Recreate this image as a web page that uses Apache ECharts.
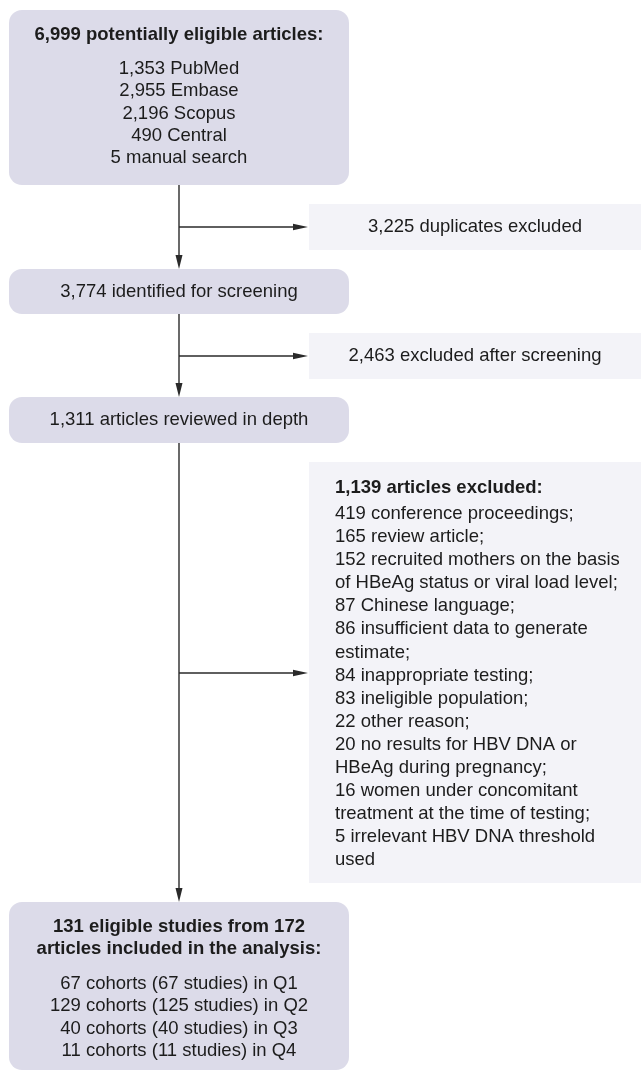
<!DOCTYPE html>
<html>
<head>
<meta charset="utf-8">
<script src="https://cdn.jsdelivr.net/npm/echarts@6/dist/echarts.min.js"></script>
<style>html,body{margin:0;padding:0;background:#fff}#c{width:643px;height:1073px}</style>
</head>
<body>
<div id="c"></div>
<script>
// ---- data (text content of the flow diagram) ----
const box1Title = ['6,999 potentially eligible articles:'];
const box1Lines = ['1,353 PubMed', '2,955 Embase', '2,196 Scopus', '490 Central', '5 manual search'];
const excl1 = ['3,225 duplicates excluded'];
const box2Lines = ['3,774 identified for screening'];
const excl2 = ['2,463 excluded after screening'];
const box3Lines = ['1,311 articles reviewed in depth'];
const excl3Title = ['1,139 articles excluded:'];
const excl3Lines = [
  '419 conference proceedings;',
  '165 review article;',
  '152 recruited mothers on the basis',
  'of HBeAg status or viral load level;',
  '87 Chinese language;',
  '86 insufficient data to generate',
  'estimate;',
  '84 inappropriate testing;',
  '83 ineligible population;',
  '22 other reason;',
  '20 no results for HBV DNA or',
  'HBeAg during pregnancy;',
  '16 women under concomitant',
  'treatment at the time of testing;',
  '5 irrelevant HBV DNA threshold',
  'used'
];
const box4Title = ['131 eligible studies from 172', 'articles included in the analysis:'];
const box4Lines = ['67 cohorts (67 studies) in Q1', '129 cohorts (125 studies) in Q2', '40 cohorts (40 studies) in Q3', '11 cohorts (11 studies) in Q4'];

// ---- styling / layout ----
const FAMILY = '"Liberation Sans", Arial, sans-serif';
const FS = 18.5;
const MAIN = '#dcdbe9';
const SIDE = '#f3f3f8';
const INK = '#1c1c1c';
const LINE = '#2a2a2a';
const CX = 179;

const els = [];
function rect(x, y, w, h, fill, r) {
  els.push({type: 'rect', shape: {x, y, width: w, height: h, r: r || 0}, style: {fill}, z: 1});
}
function textLines(lines, x, y0, step, bold, align) {
  lines.forEach((t, i) => {
    els.push({type: 'text', x: x, y: y0 + i * step, z: 5,
      style: {text: t, fill: INK, fontFamily: FAMILY, fontSize: FS, fontWeight: bold ? 'bold' : 'normal',
        align: align || 'center', verticalAlign: 'middle'}});
  });
}
function line(x1, y1, x2, y2) {
  els.push({type: 'line', shape: {x1, y1, x2, y2}, style: {stroke: LINE, lineWidth: 1.4}, z: 3});
}
function arrowDown(x, y1, y2) {
  line(x, y1, x, y2 - 12);
  els.push({type: 'polygon', shape: {points: [[x - 3.5, y2 - 14], [x + 3.5, y2 - 14], [x, y2]]}, style: {fill: LINE}, z: 4});
}
function arrowRight(x1, x2, y) {
  line(x1, y, x2 - 12, y);
  els.push({type: 'polygon', shape: {points: [[x2 - 15, y - 3.2], [x2 - 15, y + 3.2], [x2, y]]}, style: {fill: LINE}, z: 4});
}

// main boxes
rect(9, 10, 340, 175, MAIN, 13);
textLines(box1Title, CX, 34.5, 22.3, true);
textLines(box1Lines, CX, 69, 22.3, false);

rect(9, 269, 340, 45, MAIN, 13);
textLines(box2Lines, CX, 291.5, 22.3, false);

rect(9, 397, 340, 46, MAIN, 13);
textLines(box3Lines, CX, 419.5, 22.3, false);

rect(9, 902, 340, 168, MAIN, 13);
textLines(box4Title, CX, 927, 22.3, true);
textLines(box4Lines, CX, 984, 22.3, false);

// side boxes
rect(309, 204, 332, 46, SIDE, 0);
textLines(excl1, 475, 227, 22.3, false);
rect(309, 333, 332, 46, SIDE, 0);
textLines(excl2, 475, 356, 22.3, false);
rect(309, 462, 332, 421, SIDE, 0);
textLines(excl3Title, 335, 488, 22.3, true, 'left');
textLines(excl3Lines, 335, 514, 23.07, false, 'left');

// connectors
arrowDown(CX, 185, 269);
arrowRight(CX, 308, 227);
arrowDown(CX, 314, 397);
arrowRight(CX, 308, 356);
arrowDown(CX, 443, 902);
arrowRight(CX, 308, 673);

const chart = echarts.init(document.getElementById('c'), null, {renderer: 'canvas'});
chart.setOption({animation: false, backgroundColor: '#fff', graphic: {elements: els}});
</script>
</body>
</html>
